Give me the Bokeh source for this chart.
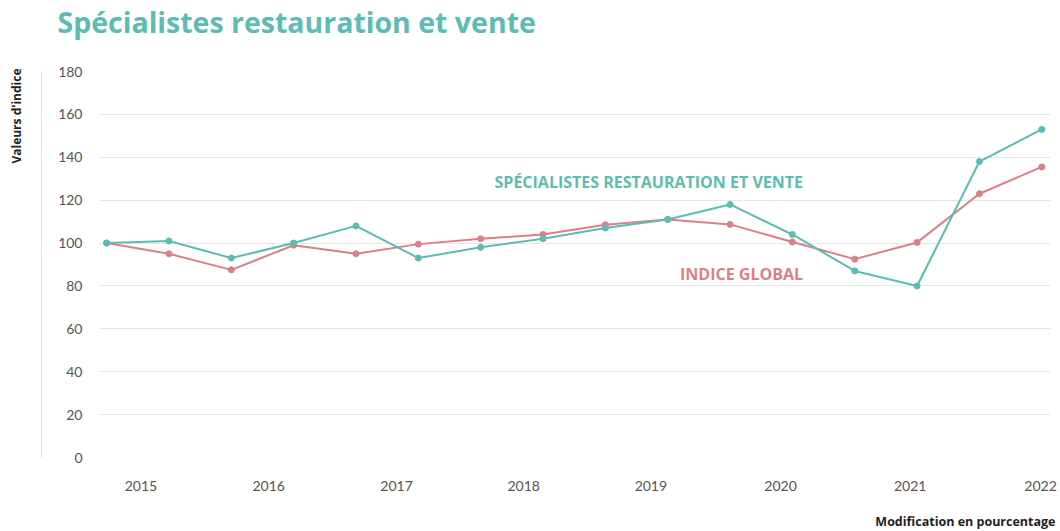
from bokeh.plotting import figure
from bokeh.models import Range1d, LinearAxis, FixedTicker, Label, Title
from bokeh.embed import file_html
from bokeh.resources import INLINE

# ---- data ----
points = list(range(16))
specialistes = [100, 101, 93, 100, 108, 93, 98, 102, 107, 111, 118, 104, 87, 80, 138, 153]
indice_global = [100, 95, 87.5, 99, 95, 99.5, 102, 104, 108.5, 111, 108.7, 100.5, 92.5, 100.3, 123, 135.5]
years = ["2015", "2016", "2017", "2018", "2019", "2020", "2021", "2022"]
year_ticks = [0.55, 2.6, 4.65, 6.69, 8.73, 10.81, 12.89, 14.98]
y_ticks = [0, 20, 40, 60, 80, 100, 120, 140, 160, 180]

TEAL = "#5cbcb4"
RED = "#dc7f87"
FONT = "Lato"
BFONT = "Open Sans"

p = figure(width=1060, height=531, output_backend="svg", toolbar_location=None, title=None,
           x_range=Range1d(-0.13, 15.14), y_range=Range1d(0, 180),
           min_border_left=98, min_border_right=10, min_border_top=71, min_border_bottom=74)
p.outline_line_color = None
p.background_fill_color = "white"

# x axis (bottom, years)
xa = p.below[0]
xa.ticker = FixedTicker(ticks=year_ticks)
xa.major_label_overrides = {t: y for t, y in zip(year_ticks, years)}
xa.axis_line_color = None
xa.major_tick_line_color = None
xa.minor_tick_line_color = None
xa.major_tick_out = 0
xa.major_label_standoff = 23
xa.major_label_text_font = FONT
xa.major_label_text_font_size = "14px"
xa.major_label_text_color = "#555555"
xa.axis_label = " "
xa.axis_label_text_font_size = "10px"
xa.axis_label_standoff = 5

# y axis (labels)
ya = p.left[0]
ya.ticker = FixedTicker(ticks=y_ticks)
ya.axis_line_color = None
ya.major_tick_line_color = None
ya.minor_tick_line_color = None
ya.major_label_standoff = 10
ya.major_label_text_font = FONT
ya.major_label_text_font_size = "14px"
ya.major_label_text_color = "#555555"
ya.axis_label = " "
ya.axis_label_text_font_size = "10px"
ya.axis_label_standoff = 0

# grids
p.xgrid.grid_line_color = None
p.ygrid.ticker = FixedTicker(ticks=y_ticks)
p.ygrid.grid_line_color = "#e6e6e6"
p.ygrid.grid_line_width = 1

# spacer above frame, then chart title
top_spacer = LinearAxis(ticker=FixedTicker(ticks=[]), axis_line_color=None,
                        major_tick_line_color=None, minor_tick_line_color=None, major_tick_out=0,
                        axis_label=" ", axis_label_text_font_size="10px", axis_label_standoff=17)
p.add_layout(top_spacer, "above")
p.add_layout(Title(text="Spécialistes restauration et vente", align="left", offset=-41,
                   vertical_align="bottom", standoff=0, text_font=BFONT, text_font_size="28.5px",
                   text_font_style="bold", text_color=TEAL), "above")

# outer axis line (with spacer label)
yb = LinearAxis(ticker=FixedTicker(ticks=[]), axis_line_color="#dddddd",
                major_tick_line_color=None, minor_tick_line_color=None, major_tick_out=0,
                axis_label=" ", axis_label_text_font_size="10px", axis_label_standoff=3)
p.add_layout(yb, "left")

# y axis title (top-left, vertical)
p.add_layout(Title(text="Valeurs d'indice", align="right", offset=-3, vertical_align="bottom",
                   standoff=0, text_font=BFONT, text_font_size="12px", text_font_style="bold",
                   text_color="#222222"), "left")

# lines
p.line(points, indice_global, line_color=RED, line_width=2)
p.scatter(points, indice_global, size=6, fill_color=RED, line_color=RED)
p.line(points, specialistes, line_color=TEAL, line_width=2)
p.scatter(points, specialistes, size=6, fill_color=TEAL, line_color=TEAL)

# series labels
p.add_layout(Label(x=11.17, y=128.3, text="SPÉCIALISTES RESTAURATION ET VENTE", text_align="right",
                   text_baseline="middle", text_font=BFONT, text_font_style="bold",
                   text_font_size="16px", text_color=TEAL))
p.add_layout(Label(x=11.17, y=85.4, text="INDICE GLOBAL", text_align="right",
                   text_baseline="middle", text_font=BFONT, text_font_style="bold",
                   text_font_size="16px", text_color=RED))

# bottom right note
p.add_layout(Title(text="Modification en pourcentage", align="right", text_font=BFONT,
                   text_font_size="12.5px", text_font_style="bold", text_color="#222222",
                   offset=-5, standoff=0, vertical_align="top"), "below")

open("out.html", "w").write(file_html(p, INLINE))
